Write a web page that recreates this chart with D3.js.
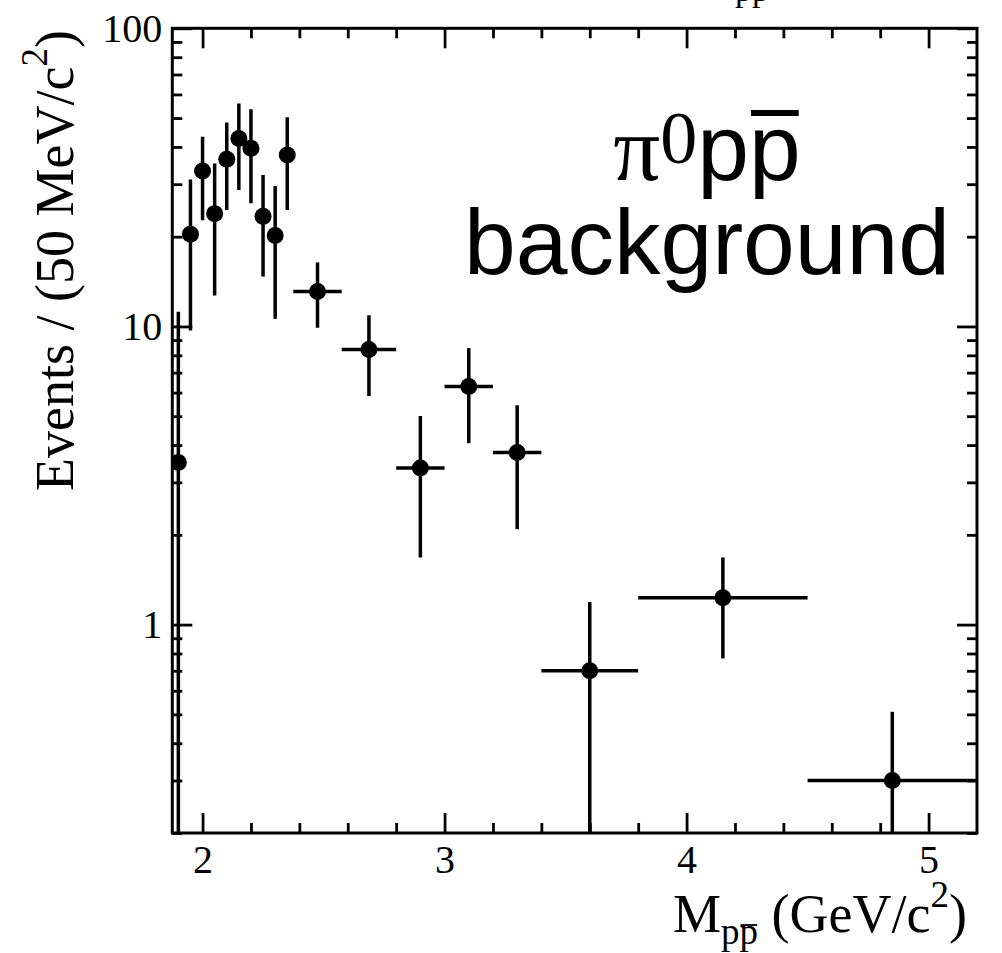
<!DOCTYPE html>
<html>
<head>
<meta charset="utf-8">
<script src="https://cdn.jsdelivr.net/npm/d3@7"></script>
<style>
  body { margin: 0; background: #fff; }
</style>
</head>
<body>
<div class="canva"></div>
<script>
// bin edges of the histogram (GeV/c^2)
const binEdges = [1.875, 1.925, 1.975, 2.025, 2.075, 2.125, 2.175, 2.225, 2.275, 2.325,
                  2.375, 2.575, 2.8, 3.0, 3.2, 3.4, 3.8, 4.5, 5.2];
// events per bin
const counts = [3.5, 20.4, 33.2, 23.9, 36.4, 42.7, 39.6, 23.4, 20.2, 37.6,
                13.1, 8.37, 3.35, 6.29, 3.78, 0.70, 1.23, 0.30];
// upper / lower ends of the error bars
const errUp = [11.2, 31.1, 43.3, 35.2, 48.3, 56.0, 53.5, 32.2, 29.6, 50.3,
               16.4, 10.9, 5.01, 8.46, 5.44, 1.19, 1.68, 0.51];
const errDown = [0, 9.7, 22.7, 12.7, 24.6, 28.7, 25.9, 14.7, 10.6, 24.6,
                 9.9, 5.84, 1.68, 4.06, 2.09, 0, 0.77, 0];

const xTicks = [2, 3, 4, 5];
const yTicks = [1, 10, 100];
const xDomain = [1.875, 5.2];
const yDomain = [0.2, 100];

const width = 1002;
const height = 953;

const margin = { top: 28.3, right: 25, bottom: 120, left: 172.3 };
const graphWidth = width - margin.left - margin.right;
const graphHeight = height - margin.top - margin.bottom;

const svg = d3.select('.canva').append('svg')
  .attr('width', width)
  .attr('height', height);

const graph = svg.append('g')
  .attr('transform', `translate(${margin.left}, ${margin.top})`);

const x = d3.scaleLinear().domain(xDomain).range([0, graphWidth]);
const y = d3.scaleLog().domain(yDomain).range([graphHeight, 0]);

const serif = '"Liberation Serif", "DejaVu Serif", serif';
const sans = '"Liberation Sans", Arial, sans-serif';

// minor ticks
const xMinor = d3.range(20, 52, 2).map(d => d / 10).filter(d => !Number.isInteger(d));
const yMinor = [];
[0.1, 1, 10].forEach(dec => {
  for (let k = 2; k <= 9; k++) {
    const v = +(k * dec).toFixed(3);
    if (v >= yDomain[0] && v <= yDomain[1]) yMinor.push(v);
  }
});

const majorLen = 20, minorLen = 10;

function styleAxis(g) {
  g.select('.domain').remove();
  g.selectAll('line').attr('stroke', '#000').attr('stroke-width', 2.8);
  g.selectAll('text').attr('font-family', serif).attr('font-size', 40).attr('fill', '#000');
}

// bottom axis
graph.append('g')
  .attr('transform', `translate(0, ${graphHeight})`)
  .call(d3.axisBottom(x).tickValues(xTicks).tickFormat(d3.format('d'))
    .tickSizeInner(-majorLen).tickSizeOuter(0).tickPadding(12))
  .call(styleAxis);
graph.append('g')
  .attr('transform', `translate(0, ${graphHeight})`)
  .call(d3.axisBottom(x).tickValues(xMinor).tickFormat('').tickSizeInner(-minorLen).tickSizeOuter(0))
  .call(styleAxis);

// top axis
graph.append('g')
  .call(d3.axisTop(x).tickValues(xTicks).tickFormat('').tickSizeInner(-majorLen).tickSizeOuter(0))
  .call(styleAxis);
graph.append('g')
  .call(d3.axisTop(x).tickValues(xMinor).tickFormat('').tickSizeInner(-minorLen).tickSizeOuter(0))
  .call(styleAxis);

// left axis
graph.append('g')
  .call(d3.axisLeft(y).tickValues(yTicks).tickFormat(d3.format('d'))
    .tickSizeInner(-majorLen).tickSizeOuter(0).tickPadding(10))
  .call(styleAxis);
graph.append('g')
  .call(d3.axisLeft(y).tickValues(yMinor).tickFormat('').tickSizeInner(-minorLen).tickSizeOuter(0))
  .call(styleAxis);

// right axis
graph.append('g')
  .attr('transform', `translate(${graphWidth}, 0)`)
  .call(d3.axisRight(y).tickValues(yTicks).tickFormat('').tickSizeInner(-majorLen).tickSizeOuter(0))
  .call(styleAxis);
graph.append('g')
  .attr('transform', `translate(${graphWidth}, 0)`)
  .call(d3.axisRight(y).tickValues(yMinor).tickFormat('').tickSizeInner(-minorLen).tickSizeOuter(0))
  .call(styleAxis);

// frame
graph.append('rect')
  .attr('width', graphWidth)
  .attr('height', graphHeight)
  .attr('fill', 'none')
  .attr('stroke', '#000')
  .attr('stroke-width', 3);

// clip data to the frame
svg.append('clipPath').attr('id', 'plotclip')
  .append('rect').attr('width', graphWidth).attr('height', graphHeight);

const points = counts.map((c, i) => ({
  lo: binEdges[i],
  hi: binEdges[i + 1],
  mid: (binEdges[i] + binEdges[i + 1]) / 2,
  val: c,
  up: errUp[i],
  down: Math.max(errDown[i], yDomain[0])
}));

const data = graph.append('g').attr('clip-path', 'url(#plotclip)');

data.selectAll('line.vbar')
  .data(points)
  .enter().append('line')
  .attr('class', 'vbar')
  .attr('x1', d => x(d.mid)).attr('x2', d => x(d.mid))
  .attr('y1', d => y(d.down)).attr('y2', d => y(d.up))
  .attr('stroke', '#000').attr('stroke-width', 3.5);

data.selectAll('line.hbar')
  .data(points)
  .enter().append('line')
  .attr('class', 'hbar')
  .attr('x1', d => x(d.lo)).attr('x2', d => x(d.hi))
  .attr('y1', d => y(d.val)).attr('y2', d => y(d.val))
  .attr('stroke', '#000').attr('stroke-width', 3.5);

data.selectAll('circle')
  .data(points)
  .enter().append('circle')
  .attr('cx', d => x(d.mid))
  .attr('cy', d => y(d.val))
  .attr('r', 8.5)
  .attr('fill', '#000');

// y axis title
const yTitle = svg.append('text')
  .attr('transform', 'translate(73, 30) rotate(-90)')
  .attr('text-anchor', 'end')
  .attr('font-family', serif)
  .attr('font-size', 54);
yTitle.append('tspan').text('Events / (50 MeV/c');
yTitle.append('tspan').attr('font-size', 37).attr('dy', -26).text('2');
yTitle.append('tspan').attr('dy', 26).text(')');

// x axis title
const xTitle = svg.append('text')
  .attr('x', 967).attr('y', 932)
  .attr('text-anchor', 'end')
  .attr('font-family', serif)
  .attr('font-size', 54);
xTitle.append('tspan').text('M');
xTitle.append('tspan').attr('font-size', 37).attr('dy', 12).text('pp');
xTitle.append('tspan').attr('dy', -12).text(' (GeV/c');
xTitle.append('tspan').attr('font-size', 37).attr('dy', -25).text('2');
xTitle.append('tspan').attr('dy', 25).text(')');

// overline on the second subscript p
const xb = xTitle.node().getExtentOfChar(2);
svg.append('line')
  .attr('x1', xb.x + 1).attr('x2', xb.x + xb.width - 1)
  .attr('y1', 925).attr('y2', 925)
  .attr('stroke', '#000').attr('stroke-width', 1.8);

// label inside the frame
const lab = svg.append('text')
  .attr('x', 707).attr('y', 180)
  .attr('text-anchor', 'middle')
  .attr('font-size', 93);
lab.append('tspan').attr('font-family', serif).text('π');
lab.append('tspan').attr('font-family', serif).attr('font-size', 74).attr('dy', -17).text('0');
lab.append('tspan').attr('font-family', sans).attr('dy', 17).text('pp');

const pb = lab.node().getExtentOfChar(3);
svg.append('line')
  .attr('x1', pb.x + 2).attr('x2', pb.x + pb.width - 2)
  .attr('y1', 113).attr('y2', 113)
  .attr('stroke', '#000').attr('stroke-width', 6);

svg.append('text')
  .attr('x', 707).attr('y', 274)
  .attr('text-anchor', 'middle')
  .attr('font-family', sans)
  .attr('font-size', 93)
  .text('background');

// title above the frame, cut by the page edge
svg.append('text')
  .attr('x', 735).attr('y', 1)
  .attr('font-family', serif)
  .attr('font-size', 34)
  .text('pp');
</script>
</body>
</html>
